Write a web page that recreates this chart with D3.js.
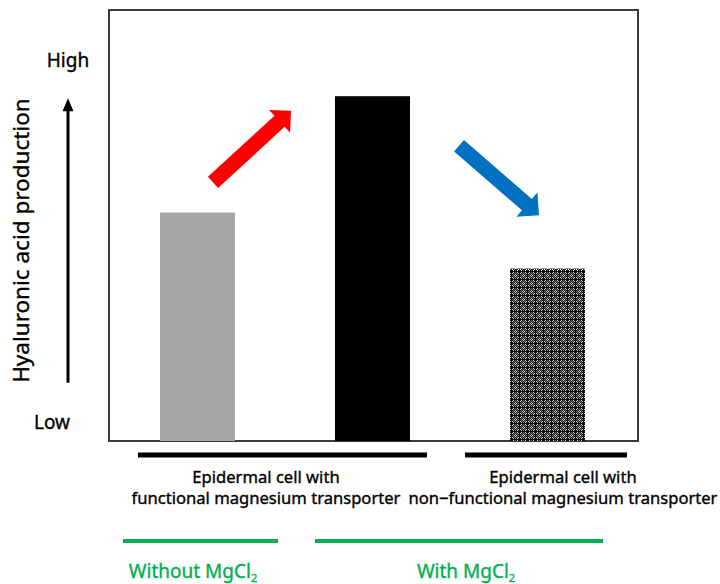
<!DOCTYPE html>
<html>
<head>
<meta charset="utf-8">
<script src="https://cdn.jsdelivr.net/npm/d3@7"></script>
<style>
  html, body { margin: 0; padding: 0; background: #fff; }
  svg { display: block; }
  text { font-family: "Noto Sans", "Noto Sans CJK JP", sans-serif; stroke-width: 0.35; }
</style>
</head>
<body>
<svg id="chart" width="720" height="584"></svg>
<script>
// Relative hyaluronic acid production per condition
const categories = [
  "Functional transporter, without MgCl2",
  "Functional transporter, with MgCl2",
  "Non-functional transporter, with MgCl2"
];
const production = [53, 80, 40];

// Qualitative y-axis ends
const yTickLabels = ["Low", "High"];
const yTickValues = [4.5, 88.5];
const yAxisTitle = "Hyaluronic acid production";

// Cell-type groups (first/last category index) and their labels
const cellGroups = [[0, 1], [2, 2]];
const cellGroupLines = [
  ["Epidermal cell with", "functional magnesium transporter"],
  ["Epidermal cell with", "non\u2212functional magnesium transporter"]
];

// Treatment groups
const treatGroups = [[0, 0], [1, 2]];
const treatLabels = ["Without MgCl", "With MgCl"];

const svg = d3.select("#chart");

const frame = { left: 109, right: 638, top: 10, bottom: 441 };

const x = d3.scaleBand()
  .domain(categories)
  .range([110, 635])
  .paddingInner(4 / 7)
  .paddingOuter(2 / 7);

const y = d3.scaleLinear().domain([0, 100]).range([frame.bottom, frame.top]);

// Fill pattern for the non-functional transporter bar
const defs = svg.append("defs");
const tile = [
  "KWKGKWKK",
  "WKGKGKWK",
  "KGKWKGKK",
  "GKWKWKGK",
  "KGKWKGKK",
  "WKGKGKWK",
  "KWKGKWKK",
  "KKKKKKKK"
];
const tileSize = tile.length;
const pat = defs.append("pattern")
  .attr("id", "grid")
  .attr("patternUnits", "userSpaceOnUse")
  .attr("width", tileSize).attr("height", tileSize);
const tileColor = { W: "#e8e8e8", G: "#6e6e6e", K: "#0a0a0a" };
tile.forEach((row, j) => row.split("").forEach((c, i) => {
  pat.append("rect").attr("x", i).attr("y", j).attr("width", 1).attr("height", 1)
    .attr("fill", tileColor[c]);
}));

const barFill = ["#a6a6a6", "#000000", "url(#grid)"];

// Plot frame
svg.append("rect")
  .attr("x", frame.left).attr("y", frame.top)
  .attr("width", frame.right - frame.left).attr("height", frame.bottom - frame.top)
  .attr("fill", "#fff").attr("stroke", "#3a3a3a").attr("stroke-width", 2);

// Bars
svg.append("g").selectAll("rect")
  .data(categories)
  .join("rect")
  .attr("x", d => x(d))
  .attr("y", (d, i) => y(production[i]))
  .attr("width", x.bandwidth())
  .attr("height", (d, i) => y(0) - y(production[i]))
  .attr("fill", (d, i) => barFill[i]);

// Block arrow polygon from (x1,y1) to tip (x2,y2)
function blockArrow(x1, y1, x2, y2, shaftW, headW, headL) {
  const dx = x2 - x1, dy = y2 - y1;
  const len = Math.hypot(dx, dy);
  const ux = dx / len, uy = dy / len;
  const nx = -uy, ny = ux;
  const bx = x2 - ux * headL, by = y2 - uy * headL;
  const pts = [
    [x1 + nx * shaftW / 2, y1 + ny * shaftW / 2],
    [bx + nx * shaftW / 2, by + ny * shaftW / 2],
    [bx + nx * headW / 2, by + ny * headW / 2],
    [x2, y2],
    [bx - nx * headW / 2, by - ny * headW / 2],
    [bx - nx * shaftW / 2, by - ny * shaftW / 2],
    [x1 - nx * shaftW / 2, y1 - ny * shaftW / 2]
  ];
  return "M" + pts.map(p => p.join(",")).join("L") + "Z";
}

const bw = x.bandwidth();
// Increase: from the first bar towards the second
svg.append("path")
  .attr("d", blockArrow(
    x(categories[0]) + bw - 22, y(60),
    x(categories[1]) - 44, y(76.6), 15, 31, 15.5))
  .attr("fill", "#ff0000");
// Decrease: from the second bar towards the third
svg.append("path")
  .attr("d", blockArrow(
    x(categories[1]) + bw + 49, y(68.5),
    x(categories[2]) + 29, y(52.4), 15, 32, 16))
  .attr("fill", "#0070c0");

// Y axis: vertical arrow, end labels and title
const axisX = 68;
svg.append("path")
  .attr("d", blockArrow(axisX, y(13.5), axisX, y(79.5), 3, 11, 13))
  .attr("fill", "#000");

svg.append("g").selectAll("text")
  .data(yTickLabels)
  .join("text")
  .attr("x", (d, i) => i === 0 ? 52 : 68)
  .attr("y", (d, i) => y(yTickValues[i]))
  .attr("text-anchor", "middle")
  .attr("dominant-baseline", "central")
  .attr("font-size", 19)
  .attr("fill", "#000").attr("stroke", "#000")
  .text(d => d);

svg.append("text")
  .attr("transform", `translate(29,${(y(13.5) + y(79.5)) / 2}) rotate(-90)`)
  .attr("text-anchor", "middle")
  .attr("font-size", 22.5)
  .attr("fill", "#000").attr("stroke", "#000")
  .text(yAxisTitle);

// Cell-type group brackets
const cellExt = [[-22, 17], [-45, 42]];
const cellTextX = [266, 563];
cellGroups.forEach((g, k) => {
  const x0 = x(categories[g[0]]) + cellExt[k][0];
  const x1 = x(categories[g[1]]) + bw + cellExt[k][1];
  svg.append("line")
    .attr("x1", x0).attr("x2", x1).attr("y1", 455).attr("y2", 455)
    .attr("stroke", "#000").attr("stroke-width", 5);
  const t = svg.append("text")
    .attr("text-anchor", "middle")
    .attr("font-size", 16.6)
    .attr("fill", "#000").attr("stroke", "#000");
  cellGroupLines[k].forEach((line, j) => {
    t.append("tspan").attr("x", cellTextX[k]).attr("y", 483 + j * 21).text(line);
  });
});

// Treatment group brackets
const treatExt = [[-37, 43], [-20, 18]];
const treatTextX = [193, 466];
treatGroups.forEach((g, k) => {
  const x0 = x(categories[g[0]]) + treatExt[k][0];
  const x1 = x(categories[g[1]]) + bw + treatExt[k][1];
  svg.append("line")
    .attr("x1", x0).attr("x2", x1).attr("y1", 541).attr("y2", 541)
    .attr("stroke", "#00b050").attr("stroke-width", 4);
  const t = svg.append("text")
    .attr("x", treatTextX[k]).attr("y", 578)
    .attr("text-anchor", "middle")
    .attr("font-size", 19)
    .attr("fill", "#00b050").attr("stroke", "#00b050");
  t.append("tspan").text(treatLabels[k]);
  t.append("tspan").attr("font-size", 11).attr("dy", 4).text("2");
});
</script>
</body>
</html>
